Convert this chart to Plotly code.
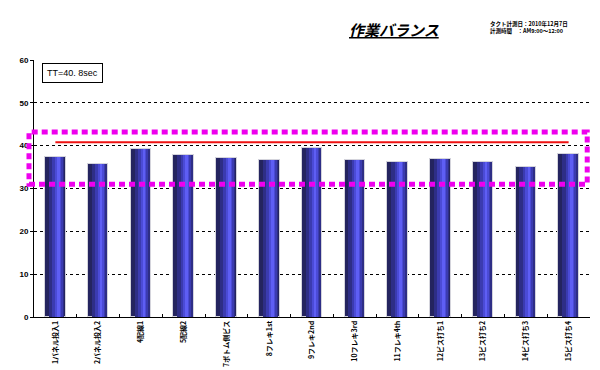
import plotly.graph_objects as go

categories = ["1パネル投入1", "2パネル投入2", "4配線1", "5配線2", "7ボトム側ビス",
              "8フレキ1st", "9フレキ2nd", "10フレキ3rd", "11フレキ4th",
              "12ビス打ち1", "13ビス打ち2", "14ビス打ち3", "15ビス打ち4"]
times = [37.3, 35.7, 39.2, 37.8, 37.1, 36.7, 39.4, 36.6, 36.2, 37.0, 36.2, 35.0, 38.0]
tt = 40.8
band_low = 31.0
band_high = 43.2
y_ticks = [0, 10, 20, 30, 40, 50, 60]

fig = go.Figure()

# gradient-like bars via overlaid layers
layers = [
    (0.48, 0.0, "#24245f", 1, "#d4d4dc"),
    (0.36, 0.03, "#2e2e86", 0, None),
    (0.24, 0.05, "#3b3bb0", 0, None),
    (0.14, 0.06, "#4b4bd6", 0, None),
    (0.06, 0.07, "#5e5ef4", 0, None),
]
for w, shift, col, lw, lc in layers:
    fig.add_trace(go.Bar(
        x=categories, y=times, width=w, offset=-w / 2 + shift,
        marker=dict(color=col, line=dict(width=lw, color=lc or col)),
        hoverinfo="skip", showlegend=False))

fig.add_trace(go.Scatter(x=[categories[0], categories[-1]], y=[tt, tt], mode="lines",
                         line=dict(color="#ee1111", width=2), showlegend=False, hoverinfo="skip"))

fig.add_shape(type="rect", xref="paper", yref="y", x0=-0.009, x1=0.995,
              y0=band_low, y1=band_high, line=dict(color="#ee00ee", width=5, dash="6px,4px"),
              layer="above")

fig.add_annotation(xref="paper", yref="paper", x=0.0144, y=0.949, xanchor="left", yanchor="middle",
                   text="TT=40. 8sec", showarrow=False, bordercolor="black", borderwidth=1,
                   borderpad=4, bgcolor="white", font=dict(size=9, color="black", family="Liberation Sans"))

fig.add_annotation(xref="paper", yref="paper", x=0.649, y=1.117, xanchor="center", yanchor="middle",
                   text="<b><i><u>作業バランス</u></i></b>", showarrow=False,
                   font=dict(size=15, color="black", family="Noto Sans CJK JP"))
fig.add_annotation(xref="paper", yref="paper", x=0.817, y=1.125, xanchor="left", yanchor="middle",
                   text="<b>タクト計測日：2010年12月7日<br>計測時間　：AM9:00～12:00</b>", showarrow=False,
                   align="left", font=dict(size=5.5, color="black", family="Noto Sans CJK JP"))

fig.update_layout(
    width=592, height=362,
    margin=dict(l=26, r=10, t=52, b=53, autoexpand=False),
    paper_bgcolor="white", plot_bgcolor="white",
    barmode="overlay", bargap=0,
    font=dict(family="Noto Sans CJK JP", color="black"),
)
fig.update_xaxes(type="category", showline=True, linecolor="black", linewidth=1,
                 ticks="inside", ticklen=3, tickson="boundaries", tickcolor="black",
                 tickangle=-90, tickfont=dict(size=7, family="Noto Sans CJK JP", weight="bold"),
                 showgrid=False, range=[-0.5, 12.5], automargin=False)
fig.update_yaxes(range=[0, 60], tickvals=y_ticks, showline=True, linecolor="black", linewidth=1,
                 ticks="outside", ticklen=3, tickcolor="black",
                 showgrid=True, gridcolor="black", griddash="3px,3px", gridwidth=1,
                 tickfont=dict(size=8, family="Liberation Sans", weight="bold"), zeroline=False,
                 automargin=False)

fig.write_html("out.html")
